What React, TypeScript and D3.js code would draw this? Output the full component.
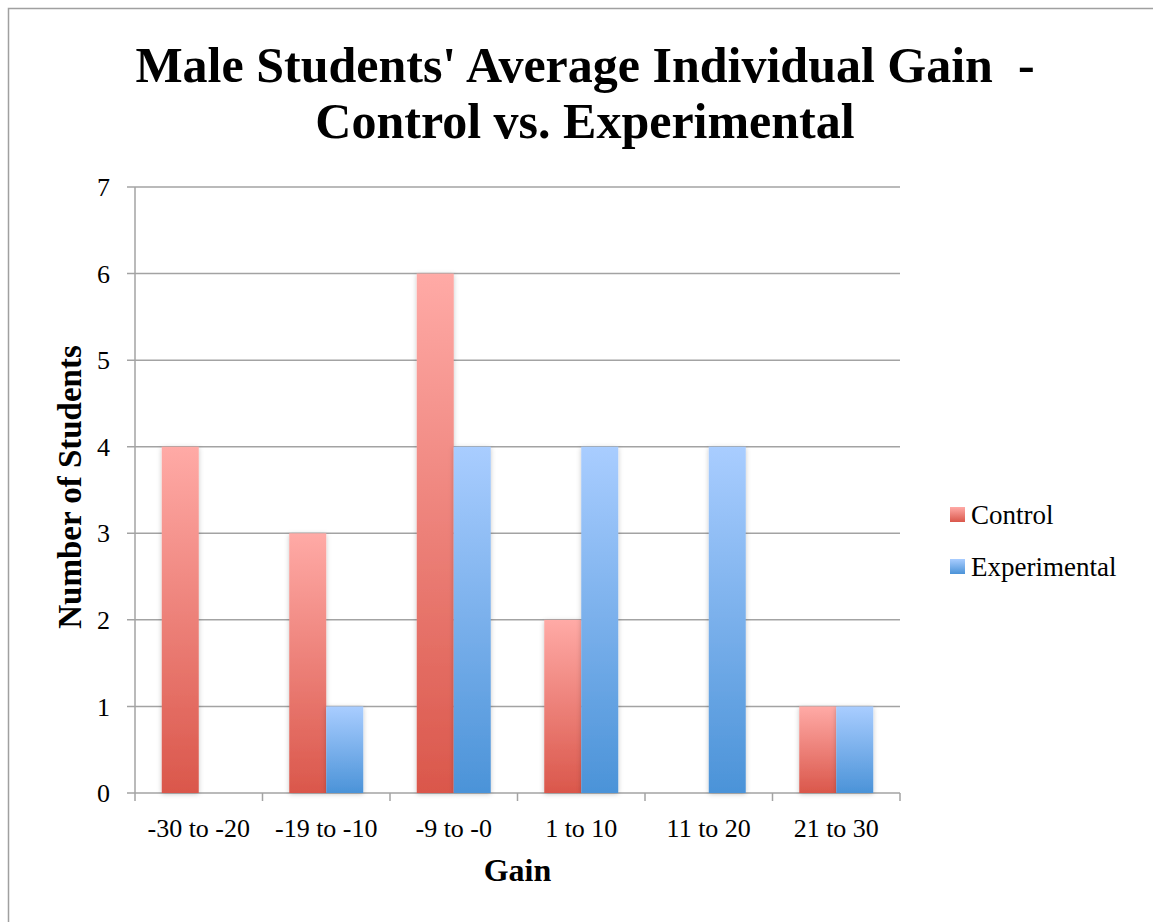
import React from 'react';
import * as d3 from 'd3';

const categories = ['-30 to -20', '-19 to -10', '-9 to -0', '1 to 10', '11 to 20', '21 to 30'];
const seriesNames = ['Control', 'Experimental'];
const controlValues = [4, 3, 6, 2, 0, 1];
const experimentalValues = [0, 1, 4, 4, 4, 1];
const yTicks = [0, 1, 2, 3, 4, 5, 6, 7];
const titleLines = ["Male Students' Average Individual Gain  -", 'Control vs. Experimental'];

const FONT = "'Liberation Serif', 'DejaVu Serif', serif";

function App() {
  const width = 1153, height = 922;
  const margin = { top: 187, left: 135, right: 253, bottom: 129 };
  const plotW = width - margin.left - margin.right;
  const plotH = height - margin.top - margin.bottom;

  const x0 = d3.scaleBand().domain(categories).range([0, plotW]).padding(0);
  const x1 = d3.scaleBand().domain(seriesNames).range([0, x0.bandwidth()])
    .paddingInner(0).paddingOuter(0.723);
  const y = d3.scaleLinear().domain([0, 7]).range([plotH, 0]);

  const rows = categories.map((c, i) => ({ cat: c, values: [controlValues[i], experimentalValues[i]] }));
  const gradIds = ['gradControl', 'gradExperimental'];
  const grid = '#a3a3a3';

  return (
    <svg width={width} height={height} style={{ display: 'block', position: 'absolute', left: 0, top: 0 }}>
      <defs>
        <linearGradient id="gradControl" x1="0" y1="0" x2="0" y2="1">
          <stop offset="0%" stopColor="#ffaaa6" />
          <stop offset="100%" stopColor="#da574b" />
        </linearGradient>
        <linearGradient id="gradExperimental" x1="0" y1="0" x2="0" y2="1">
          <stop offset="0%" stopColor="#a9cdff" />
          <stop offset="100%" stopColor="#4b93d8" />
        </linearGradient>
        <filter id="shadow" x="-30%" y="-10%" width="160%" height="120%">
          <feDropShadow dx="0" dy="1" stdDeviation="2.5" floodColor="#000" floodOpacity="0.22" />
        </filter>
      </defs>
      <rect x={0} y={0} width={width} height={height} fill="#fff" />
      {/* chart border */}
      <rect x={8.5} y={8.5} width={width + 20} height={height + 20} fill="none" stroke="#a0a0a0" strokeWidth={1.5} />

      {/* title */}
      <g fontFamily={FONT} fontWeight="bold" fontSize={50} textAnchor="middle" fill="#000">
        {titleLines.map((t, i) => (
          <text key={i} x={585} y={82 + i * 56} style={{ whiteSpace: 'pre' }}>{t}</text>
        ))}
      </g>

      <g transform={`translate(${margin.left},${margin.top})`}>
        {/* grid lines */}
        {yTicks.map(t => (
          <line key={t} x1={-8} x2={plotW} y1={y(t)} y2={y(t)} stroke={grid} strokeWidth={1.5} />
        ))}
        {/* y axis */}
        <line x1={0} x2={0} y1={0} y2={plotH} stroke={grid} strokeWidth={1.5} />
        {yTicks.map(t => (
          <text key={t} x={-25} y={y(t)} dy="0.35em" textAnchor="end" fontFamily={FONT} fontSize={26} fill="#000">{t}</text>
        ))}
        {/* x ticks */}
        {categories.map(c => (
          <line key={c} x1={x0(c)!} x2={x0(c)!} y1={plotH} y2={plotH + 8} stroke={grid} strokeWidth={1.5} />
        ))}
        <line x1={plotW} x2={plotW} y1={plotH} y2={plotH + 8} stroke={grid} strokeWidth={1.5} />

        {/* bars */}
        {rows.map(r => (
          <g key={r.cat} transform={`translate(${x0(r.cat)},0)`}>
            {r.values.map((v, j) => v > 0 ? (
              <rect key={j} x={x1(seriesNames[j])!} y={y(v)} width={x1.bandwidth()} height={plotH - y(v)}
                fill={`url(#${gradIds[j]})`} filter="url(#shadow)" />
            ) : null)}
          </g>
        ))}

        {/* x labels */}
        {categories.map(c => (
          <text key={c} x={x0(c)! + x0.bandwidth() / 2} y={plotH + 44} textAnchor="middle" fontFamily={FONT} fontSize={26} fill="#000">{c}</text>
        ))}

        {/* axis titles */}
        <text x={plotW / 2} y={plotH + 88} textAnchor="middle" fontFamily={FONT} fontWeight="bold" fontSize={32} fill="#000">Gain</text>
        <text transform={`translate(${-66},${plotH / 2 - 3}) rotate(-90)`} dy="0.35em" textAnchor="middle" fontFamily={FONT} fontWeight="bold" fontSize={33} fill="#000">Number of Students</text>
      </g>

      {/* legend */}
      <g fontFamily={FONT} fontSize={27} fill="#000">
        {seriesNames.map((s, i) => (
          <g key={s} transform={`translate(950,${507 + i * 52})`}>
            <rect x={0} y={0} width={15} height={15} fill={`url(#${gradIds[i]})`} />
            <text x={21} y={8} dy="0.35em">{s}</text>
          </g>
        ))}
      </g>
    </svg>
  );
}

export default App;
